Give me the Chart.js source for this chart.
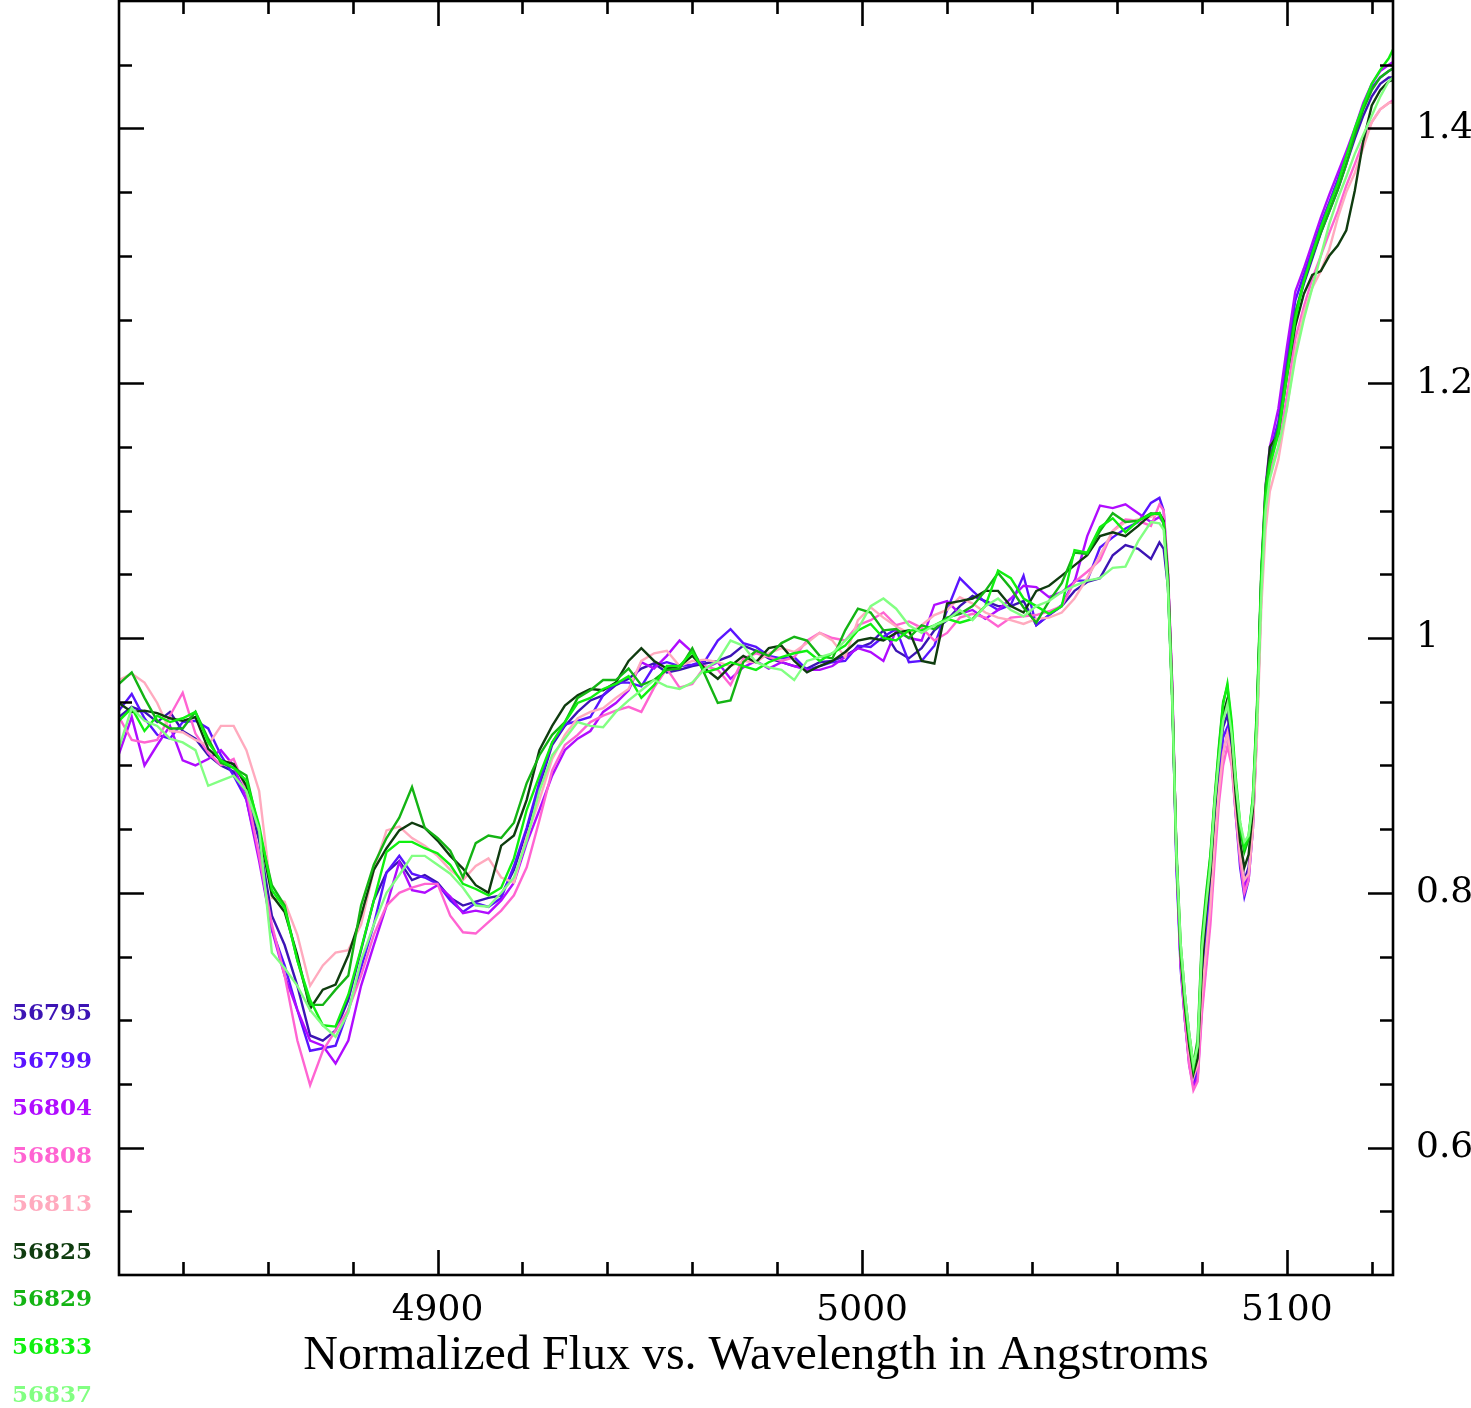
<!DOCTYPE html>
<html lang="en">
<head>
<meta charset="UTF-8" />
<title>Normalized Flux vs. Wavelength</title>
<script src="https://cdn.jsdelivr.net/npm/chart.js"></script>
<style>
	body { margin: 0; background: #fff; }
	#wrap { width: 1471px; height: 1408px; }
</style>
</head>
<body>
<div id="wrap"><canvas id="specChart" width="1471" height="1408"></canvas></div>
<script>
// wavelength grid in Angstroms (1 A steps across the two narrow lines near 5080)
const wavelengths = [
	4825, 4828, 4831, 4834, 4837, 4840, 4843, 4846, 4849, 4852,
	4855, 4858, 4861, 4864, 4867, 4870, 4873, 4876, 4879, 4882,
	4885, 4888, 4891, 4894, 4897, 4900, 4903, 4906, 4909, 4912,
	4915, 4918, 4921, 4924, 4927, 4930, 4933, 4936, 4939, 4942,
	4945, 4948, 4951, 4954, 4957, 4960, 4963, 4966, 4969, 4972,
	4975, 4978, 4981, 4984, 4987, 4990, 4993, 4996, 4999, 5002,
	5005, 5008, 5011, 5014, 5017, 5020, 5023, 5026, 5029, 5032,
	5035, 5038, 5041, 5044, 5047, 5050, 5053, 5056, 5059, 5062,
	5065, 5068,
	5070, 5071, 5072, 5073, 5074, 5075, 5076, 5077, 5078, 5079,
	5080, 5081, 5082, 5083, 5084, 5085, 5086, 5087, 5088, 5089,
	5090, 5091, 5092, 5093, 5094, 5095, 5096,
	5098, 5100, 5102, 5104, 5106, 5108, 5110, 5112, 5114, 5116,
	5118, 5120, 5122, 5124, 5125
];

const epochs = ["56795", "56799", "56804", "56808", "56813", "56825", "56829", "56833", "56837"];
const lineColors = ["#3c14b4", "#5a14ff", "#b00cff", "#ff64d2", "#ffaabe", "#0f3c0f", "#14b414", "#10f010", "#82ff82"];

const flux56795 = [
	0.938, 0.946, 0.942, 0.934, 0.942, 0.927, 0.921, 0.908, 0.900, 0.895,
	0.879, 0.841, 0.782, 0.759, 0.727, 0.688, 0.684, 0.692, 0.716, 0.755,
	0.794, 0.816, 0.825, 0.810, 0.814, 0.808, 0.796, 0.790, 0.793, 0.796,
	0.798, 0.818, 0.849, 0.884, 0.916, 0.931, 0.942, 0.951, 0.955, 0.963,
	0.968, 0.976, 0.980, 0.973, 0.975, 0.978, 0.980, 0.982, 0.986, 0.994,
	0.990, 0.984, 0.981, 0.978, 0.976, 0.981, 0.982, 0.986, 0.992, 0.996,
	1.006, 0.990, 0.984, 0.992, 1.006, 1.014, 1.025, 1.033, 1.029, 1.025,
	1.025, 1.029, 1.010, 1.018, 1.025, 1.037, 1.044, 1.047, 1.065, 1.073,
	1.070, 1.062,
	1.075, 1.070, 1.040, 0.955, 0.825, 0.745, 0.705, 0.672, 0.652, 0.665,
	0.740, 0.780, 0.812, 0.862, 0.900, 0.930, 0.940, 0.915, 0.870, 0.835,
	0.810, 0.820, 0.855, 0.935, 1.040, 1.110, 1.140,
	1.165, 1.210, 1.255, 1.278, 1.298, 1.318, 1.335, 1.352, 1.372, 1.392,
	1.410, 1.425, 1.435, 1.440, 1.440
];
const flux56799 = [
	0.943, 0.956, 0.937, 0.924, 0.921, 0.934, 0.935, 0.929, 0.908, 0.892,
	0.873, 0.829, 0.771, 0.743, 0.708, 0.676, 0.678, 0.680, 0.708, 0.741,
	0.775, 0.816, 0.829, 0.815, 0.812, 0.807, 0.794, 0.785, 0.792, 0.789,
	0.796, 0.821, 0.851, 0.887, 0.918, 0.932, 0.935, 0.938, 0.955, 0.965,
	0.965, 0.962, 0.978, 0.981, 0.978, 0.979, 0.982, 0.998, 1.007, 0.996,
	0.993, 0.986, 0.984, 0.985, 0.975, 0.978, 0.981, 0.982, 0.994, 0.993,
	1.001, 1.007, 0.981, 0.982, 0.994, 1.022, 1.047, 1.037, 1.028, 1.022,
	1.026, 1.049, 1.010, 1.018, 1.026, 1.045, 1.045, 1.071, 1.079, 1.086,
	1.091, 1.106,
	1.110, 1.100, 1.050, 0.960, 0.820, 0.740, 0.700, 0.668, 0.650, 0.660,
	0.730, 0.770, 0.800, 0.850, 0.890, 0.922, 0.930, 0.905, 0.860, 0.820,
	0.797, 0.810, 0.850, 0.935, 1.045, 1.115, 1.145,
	1.170, 1.220, 1.265, 1.285, 1.305, 1.325, 1.342, 1.360, 1.380, 1.398,
	1.418, 1.432, 1.440, 1.445, 1.447
];
const flux56804 = [
	0.909, 0.938, 0.900, 0.916, 0.931, 0.904, 0.900, 0.905, 0.912, 0.900,
	0.873, 0.825, 0.771, 0.735, 0.708, 0.684, 0.680, 0.666, 0.684, 0.727,
	0.759, 0.790, 0.824, 0.802, 0.800, 0.806, 0.797, 0.784, 0.786, 0.784,
	0.794, 0.808, 0.839, 0.865, 0.892, 0.912, 0.921, 0.927, 0.942, 0.949,
	0.959, 0.981, 0.976, 0.986, 0.998, 0.989, 0.976, 0.981, 0.968, 0.977,
	0.982, 0.976, 0.981, 0.978, 0.975, 0.975, 0.978, 0.985, 0.992, 0.989,
	0.982, 1.006, 1.000, 0.998, 1.026, 1.029, 1.019, 1.022, 1.015, 1.022,
	1.031, 1.041, 1.040, 1.032, 1.036, 1.044, 1.080, 1.104, 1.102, 1.105,
	1.098, 1.091,
	1.095, 1.090, 1.050, 0.965, 0.830, 0.745, 0.700, 0.665, 0.648, 0.655,
	0.710, 0.745, 0.782, 0.835, 0.880, 0.910, 0.925, 0.905, 0.865, 0.830,
	0.805, 0.815, 0.855, 0.940, 1.050, 1.120, 1.150,
	1.180, 1.228, 1.272, 1.290, 1.310, 1.330, 1.348, 1.365, 1.382, 1.400,
	1.420, 1.435, 1.445, 1.450, 1.452
];
const flux56808 = [
	0.938, 0.920, 0.918, 0.920, 0.939, 0.957, 0.925, 0.910, 0.900, 0.905,
	0.880, 0.829, 0.775, 0.735, 0.684, 0.649, 0.676, 0.692, 0.708, 0.735,
	0.767, 0.790, 0.800, 0.804, 0.807, 0.807, 0.782, 0.769, 0.768, 0.777,
	0.786, 0.798, 0.820, 0.857, 0.896, 0.916, 0.924, 0.934, 0.939, 0.943,
	0.946, 0.942, 0.961, 0.976, 0.961, 0.964, 0.978, 0.975, 0.963, 0.984,
	0.988, 0.985, 0.982, 0.985, 0.998, 1.004, 1.000, 0.998, 1.010, 1.014,
	1.020, 1.010, 1.013, 1.008, 0.998, 1.004, 1.016, 1.019, 1.016, 1.009,
	1.016, 1.017, 1.018, 1.021, 1.025, 1.044, 1.052, 1.061, 1.084, 1.093,
	1.092, 1.088,
	1.105, 1.100, 1.055, 0.965, 0.830, 0.745, 0.700, 0.665, 0.645, 0.652,
	0.705, 0.740, 0.775, 0.825, 0.870, 0.900, 0.915, 0.900, 0.860, 0.825,
	0.800, 0.810, 0.850, 0.930, 1.035, 1.100, 1.130,
	1.150, 1.190, 1.235, 1.260, 1.282, 1.300, 1.318, 1.335, 1.355, 1.372,
	1.390, 1.405, 1.415, 1.420, 1.422
];
const flux56813 = [
	0.967, 0.972, 0.965, 0.949, 0.927, 0.926, 0.920, 0.916, 0.931, 0.931,
	0.912, 0.880, 0.796, 0.793, 0.767, 0.727, 0.743, 0.753, 0.755, 0.775,
	0.818, 0.849, 0.852, 0.843, 0.837, 0.829, 0.818, 0.810, 0.821, 0.827,
	0.812, 0.808, 0.844, 0.873, 0.905, 0.924, 0.937, 0.942, 0.945, 0.953,
	0.960, 0.982, 0.988, 0.990, 0.978, 0.982, 0.983, 0.981, 0.978, 0.982,
	0.981, 0.988, 0.992, 0.989, 0.996, 1.004, 0.998, 0.985, 1.014, 1.024,
	1.016, 1.009, 1.004, 1.010, 1.018, 1.022, 1.032, 1.027, 1.020, 1.016,
	1.014, 1.011, 1.015, 1.016, 1.020, 1.031, 1.047, 1.065, 1.084, 1.091,
	1.093, 1.095,
	1.098, 1.090, 1.045, 0.960, 0.830, 0.750, 0.710, 0.675, 0.655, 0.665,
	0.720, 0.755, 0.790, 0.840, 0.880, 0.910, 0.925, 0.905, 0.865, 0.830,
	0.810, 0.815, 0.850, 0.925, 1.025, 1.085, 1.115,
	1.140, 1.180, 1.225, 1.255, 1.275, 1.288, 1.305, 1.330, 1.350, 1.365,
	1.385, 1.405, 1.415, 1.420, 1.420
];
const flux56825 = [
	0.949, 0.942, 0.943, 0.941, 0.937, 0.935, 0.938, 0.913, 0.904, 0.901,
	0.884, 0.849, 0.798, 0.785, 0.751, 0.709, 0.724, 0.728, 0.751, 0.782,
	0.818, 0.835, 0.849, 0.855, 0.851, 0.841, 0.829, 0.819, 0.806, 0.800,
	0.837, 0.845, 0.873, 0.912, 0.931, 0.947, 0.955, 0.960, 0.959, 0.965,
	0.982, 0.992, 0.982, 0.976, 0.978, 0.986, 0.976, 0.968, 0.978, 0.986,
	0.981, 0.992, 0.994, 0.982, 0.973, 0.978, 0.982, 0.989, 0.998, 1.000,
	0.998, 1.004, 1.006, 0.982, 0.980, 1.027, 1.029, 1.031, 1.037, 1.037,
	1.025, 1.020, 1.037, 1.041, 1.049, 1.057, 1.065, 1.080, 1.083, 1.080,
	1.088, 1.097,
	1.098, 1.092, 1.050, 0.960, 0.830, 0.750, 0.710, 0.680, 0.658, 0.670,
	0.740, 0.785, 0.815, 0.865, 0.905, 0.940, 0.952, 0.920, 0.875, 0.840,
	0.820, 0.830, 0.865, 0.945, 1.050, 1.115, 1.150,
	1.160, 1.205, 1.245, 1.270, 1.285, 1.288, 1.300, 1.308, 1.320, 1.351,
	1.390, 1.418, 1.430, 1.437, 1.438
];
const flux56829 = [
	0.964, 0.973, 0.953, 0.935, 0.929, 0.929, 0.942, 0.921, 0.902, 0.898,
	0.892, 0.849, 0.806, 0.790, 0.747, 0.712, 0.712, 0.724, 0.735, 0.790,
	0.822, 0.843, 0.859, 0.883, 0.851, 0.843, 0.833, 0.812, 0.839, 0.845,
	0.843, 0.855, 0.886, 0.908, 0.924, 0.934, 0.953, 0.959, 0.967, 0.967,
	0.976, 0.963, 0.967, 0.975, 0.976, 0.992, 0.971, 0.949, 0.951, 0.981,
	0.990, 0.986, 0.996, 1.001, 0.998, 0.986, 0.984, 1.006, 1.023, 1.020,
	1.006, 1.007, 1.000, 1.010, 1.007, 1.016, 1.019, 1.025, 1.037, 1.051,
	1.039, 1.024, 1.012, 1.029, 1.043, 1.067, 1.066, 1.084, 1.098, 1.091,
	1.092, 1.098,
	1.097, 1.090, 1.045, 0.955, 0.835, 0.760, 0.720, 0.690, 0.665, 0.685,
	0.765, 0.800, 0.830, 0.875, 0.915, 0.950, 0.962, 0.930, 0.885, 0.850,
	0.832, 0.842, 0.875, 0.950, 1.055, 1.120, 1.140,
	1.165, 1.210, 1.255, 1.280, 1.300, 1.318, 1.335, 1.352, 1.372, 1.395,
	1.415, 1.430, 1.440, 1.445, 1.447
];
const flux56833 = [
	0.935, 0.945, 0.927, 0.939, 0.934, 0.937, 0.942, 0.918, 0.904, 0.898,
	0.888, 0.853, 0.802, 0.788, 0.747, 0.716, 0.696, 0.695, 0.720, 0.756,
	0.794, 0.832, 0.840, 0.840, 0.835, 0.831, 0.822, 0.807, 0.803, 0.798,
	0.804, 0.827, 0.865, 0.892, 0.918, 0.934, 0.949, 0.953, 0.960, 0.964,
	0.970, 0.953, 0.963, 0.978, 0.978, 0.989, 0.973, 0.976, 0.981, 0.978,
	0.975, 0.981, 0.985, 0.988, 0.990, 0.982, 0.988, 0.994, 1.006, 1.011,
	1.000, 0.998, 1.006, 1.006, 1.010, 1.015, 1.012, 1.015, 1.025, 1.053,
	1.047, 1.031, 1.025, 1.019, 1.025, 1.069, 1.067, 1.087, 1.094, 1.083,
	1.092, 1.097,
	1.098, 1.090, 1.040, 0.950, 0.830, 0.755, 0.715, 0.685, 0.662, 0.680,
	0.760, 0.795, 0.828, 0.872, 0.912, 0.948, 0.964, 0.935, 0.890, 0.855,
	0.835, 0.845, 0.875, 0.945, 1.050, 1.110, 1.135,
	1.160, 1.205, 1.250, 1.280, 1.302, 1.322, 1.340, 1.357, 1.378, 1.400,
	1.418, 1.435, 1.446, 1.455, 1.462
];
const flux56837 = [
	0.914, 0.945, 0.935, 0.931, 0.921, 0.918, 0.912, 0.884, 0.888, 0.892,
	0.880, 0.849, 0.753, 0.741, 0.727, 0.708, 0.696, 0.687, 0.706, 0.747,
	0.775, 0.800, 0.814, 0.829, 0.829, 0.822, 0.815, 0.804, 0.790, 0.789,
	0.800, 0.812, 0.841, 0.880, 0.908, 0.921, 0.934, 0.931, 0.930, 0.942,
	0.951, 0.959, 0.967, 0.962, 0.960, 0.965, 0.976, 0.982, 0.998, 0.994,
	0.981, 0.977, 0.975, 0.967, 0.982, 0.985, 0.988, 0.998, 1.007, 1.025,
	1.031, 1.023, 1.010, 1.004, 1.010, 1.014, 1.022, 1.014, 1.025, 1.031,
	1.022, 1.017, 1.025, 1.029, 1.036, 1.041, 1.045, 1.047, 1.055, 1.056,
	1.076, 1.091,
	1.090, 1.085, 1.040, 0.955, 0.830, 0.760, 0.720, 0.690, 0.665, 0.680,
	0.755, 0.790, 0.822, 0.870, 0.905, 0.935, 0.948, 0.925, 0.885, 0.855,
	0.840, 0.845, 0.870, 0.935, 1.035, 1.100, 1.125,
	1.150, 1.180, 1.220, 1.250, 1.275, 1.300, 1.325, 1.345, 1.362, 1.380,
	1.395, 1.410, 1.425, 1.437, 1.440
];

const fluxSeries = [flux56795, flux56799, flux56804, flux56808, flux56813,
	flux56825, flux56829, flux56833, flux56837];

// labelled ticks
const xMajorTicks = [4900, 5000, 5100];
const yMajorTicks = [0.6, 0.8, 1, 1.2, 1.4];

const serif = "'Liberation Serif', 'Times New Roman', serif";
const tickFont = "'DejaVu Serif', serif";

// box around the plot with inward ticks on all four sides
const frameTicks = {
	id: "frameTicks",
	afterDatasetsDraw(chart) {
		const { ctx, chartArea: a, scales } = chart;
		const x = scales.x, y = scales.y;
		ctx.save();
		ctx.strokeStyle = "#000";
		ctx.lineWidth = 2.6;
		ctx.strokeRect(a.left, a.top, a.right - a.left, a.bottom - a.top);
		ctx.beginPath();
		for (let w = 4840; w <= 5120; w += 20) {
			const len = xMajorTicks.includes(w) ? 25 : 13;
			const px = Math.round(x.getPixelForValue(w)) + 0.5;
			ctx.moveTo(px, a.bottom);
			ctx.lineTo(px, a.bottom - len);
			ctx.moveTo(px, a.top);
			ctx.lineTo(px, a.top + len);
		}
		for (let k = 11; k <= 29; k++) {
			const len = k % 4 === 0 ? 25 : 13;
			const py = Math.round(y.getPixelForValue(k * 0.05)) + 0.5;
			ctx.moveTo(a.left, py);
			ctx.lineTo(a.left + len, py);
			ctx.moveTo(a.right, py);
			ctx.lineTo(a.right - len, py);
		}
		ctx.stroke();
		ctx.restore();
	}
};

// epoch labels stacked in the lower left margin
const epochKey = {
	id: "epochKey",
	afterDraw(chart) {
		const ctx = chart.ctx;
		ctx.save();
		ctx.font = "bold 23px 'DejaVu Serif', serif";
		ctx.textBaseline = "middle";
		ctx.textAlign = "left";
		epochs.forEach((label, i) => {
			ctx.fillStyle = lineColors[i];
			ctx.fillText(label, 12, 1014 + i * 47.75);
		});
		ctx.restore();
	}
};

const datasets = epochs.map((label, i) => ({
	label: label,
	data: wavelengths.map((w, j) => ({ x: w, y: fluxSeries[i][j] })),
	borderColor: lineColors[i],
	backgroundColor: lineColors[i],
	borderWidth: 2.4,
	pointRadius: 0,
	tension: 0,
	fill: false,
	order: epochs.length - i
}));

// keep the axes from reserving room for half-labels at the ends
function noEdgePadding(scale) {
	scale.paddingTop = 0;
	scale.paddingBottom = 0;
	scale.paddingLeft = 0;
	scale.paddingRight = 0;
}

new Chart(document.getElementById("specChart").getContext("2d"), {
	type: "line",
	data: { datasets: datasets },
	plugins: [frameTicks, epochKey],
	options: {
		responsive: false,
		animation: false,
		layout: { padding: { left: 119, top: 1, right: 0, bottom: 0 } },
		plugins: {
			legend: { display: false },
			tooltip: { enabled: false }
		},
		scales: {
			x: {
				type: "linear",
				position: "bottom",
				min: 4825,
				max: 5125,
				afterBuildTicks: (scale) => {
					scale.ticks = xMajorTicks.map((v) => ({ value: v }));
				},
				afterFit: (scale) => {
					scale.height = 133;
					noEdgePadding(scale);
				},
				grid: { display: false, drawTicks: false },
				border: { display: false },
				ticks: {
					color: "#000",
					font: { family: tickFont, size: 36 },
					padding: 14,
					maxRotation: 0,
					callback: (v) => String(v)
				},
				title: {
					display: true,
					text: "Normalized Flux vs. Wavelength in Angstroms",
					color: "#000",
					font: { family: serif, size: 48 },
					padding: { top: 0, bottom: 23 }
				}
			},
			y: {
				type: "linear",
				position: "right",
				min: 0.5,
				max: 1.5,
				afterBuildTicks: (scale) => {
					scale.ticks = yMajorTicks.map((v) => ({ value: v }));
				},
				afterFit: (scale) => {
					scale.width = 78;
					noEdgePadding(scale);
				},
				grid: { display: false, drawTicks: false },
				border: { display: false },
				ticks: {
					color: "#000",
					font: { family: tickFont, size: 36 },
					padding: 23,
					callback: (v) => String(v)
				}
			}
		}
	}
});
</script>
</body>
</html>
